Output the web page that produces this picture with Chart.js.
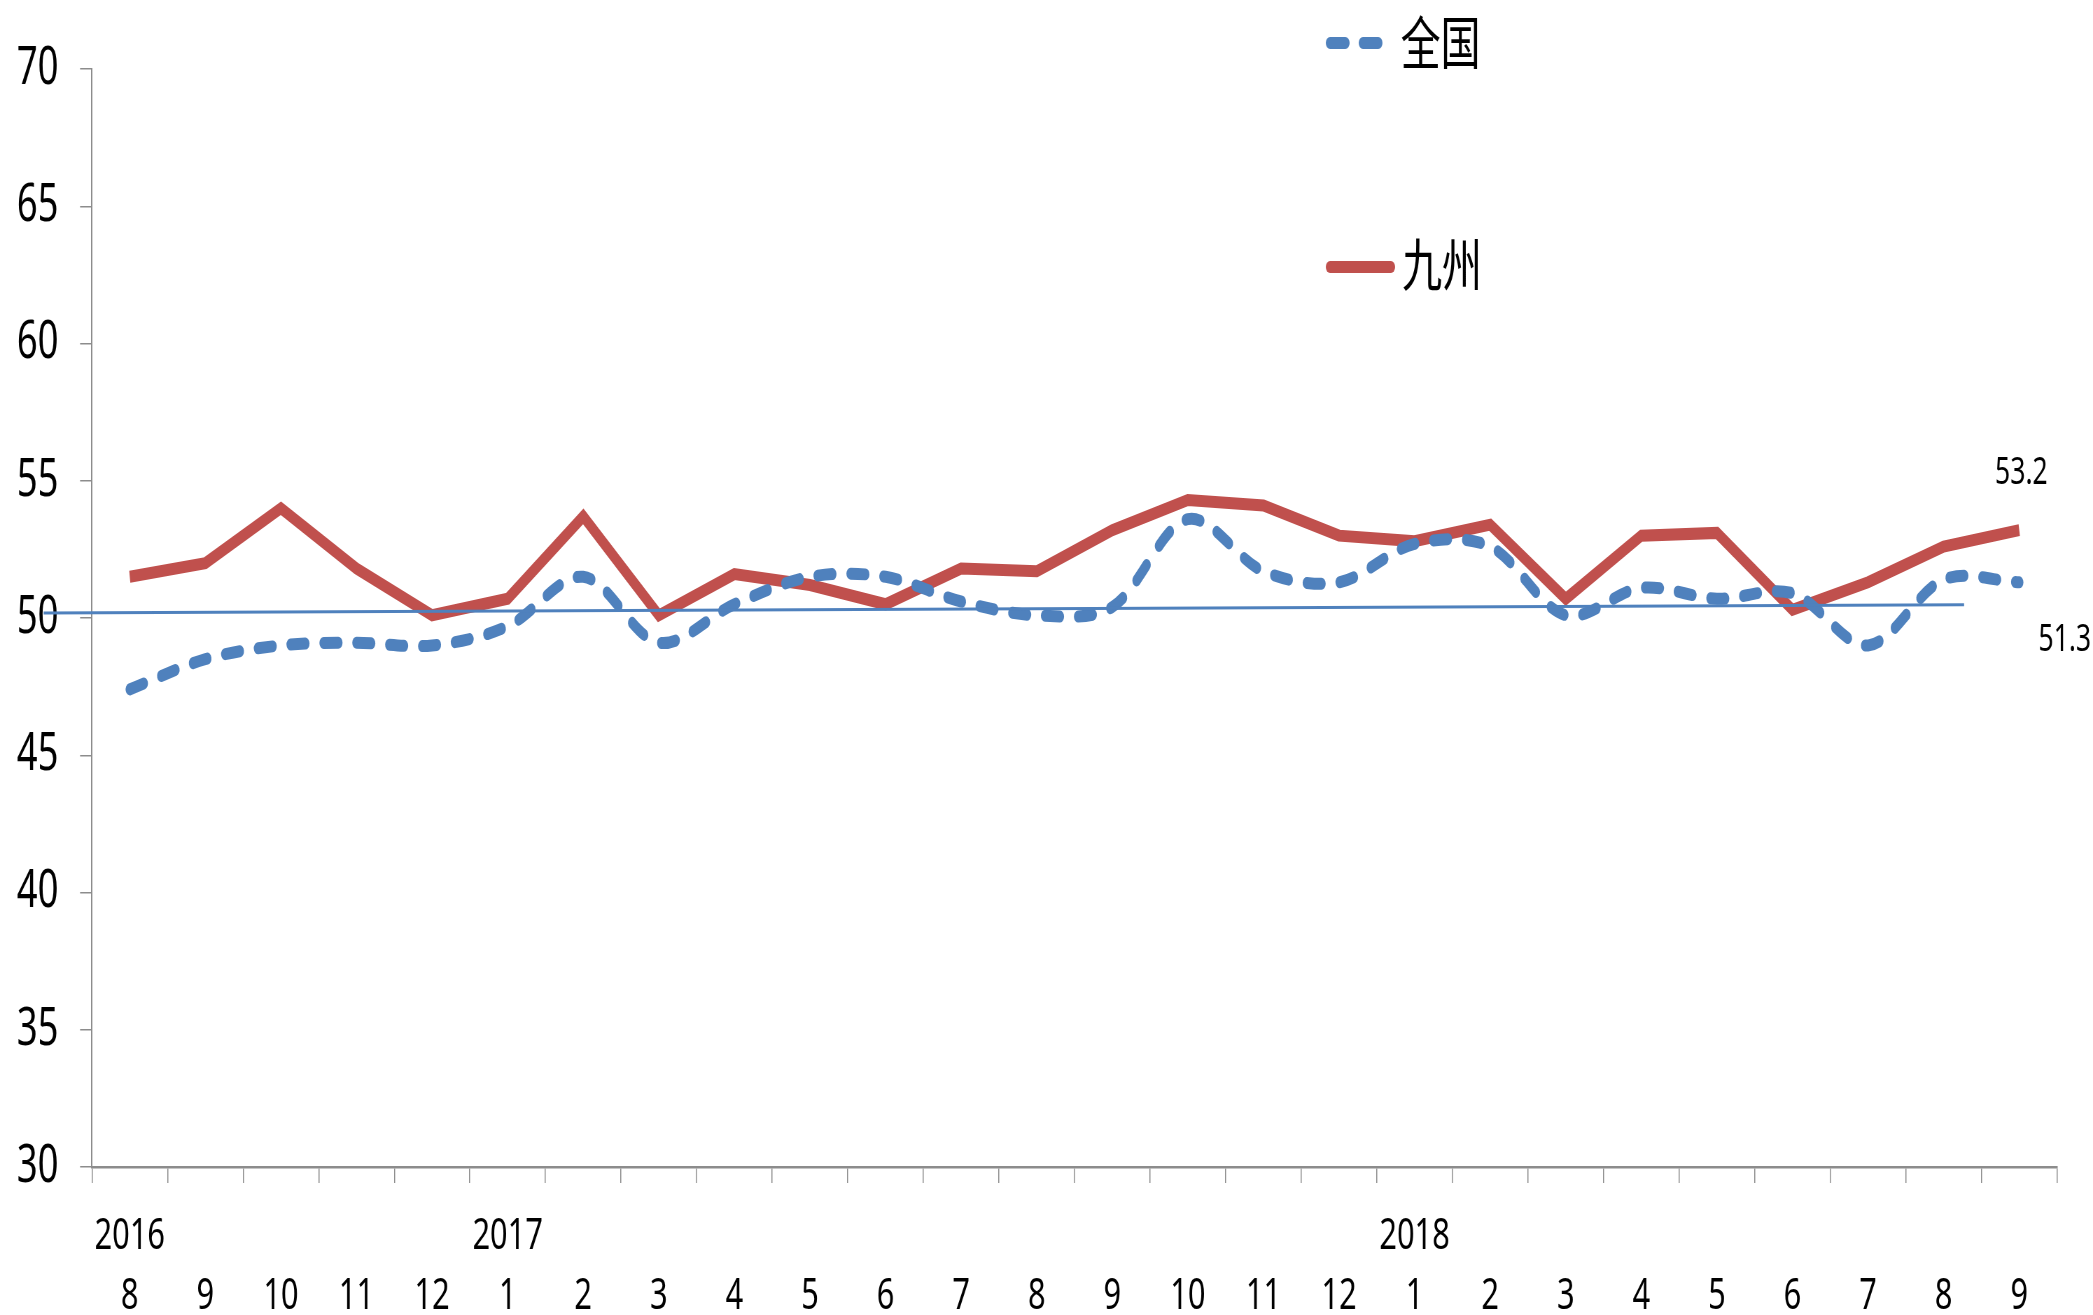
<!DOCTYPE html>
<html>
<head>
<meta charset="utf-8">
<script src="https://cdn.jsdelivr.net/npm/chart.js@4.4.0/dist/chart.umd.min.js"></script>
<style>
  html, body { margin: 0; padding: 0; background: #fff; overflow: hidden; }
  /* the original picture is squeezed sideways, so draw wide and squeeze it */
  #wrap { width: 2990px; height: 1315px; transform: scaleX(0.7); transform-origin: 0 0; }
</style>
</head>
<body>
<div id="wrap"><canvas id="chart"></canvas></div>
<script>
var months = ['8','9','10','11','12','1','2','3','4','5','6','7','8','9','10','11','12','1','2','3','4','5','6','7','8','9'];
var years  = ['2016','','','','','2017','','','','','','','','','','','','2018','','','','','','','',''];

var quanguo = [47.4,48.5,49.0,49.1,49.0,49.7,51.5,49.1,50.5,51.5,51.5,50.6,50.1,50.4,53.6,51.7,51.3,52.7,52.6,50.1,51.1,50.7,50.9,49.0,51.4,51.3];
var jiuzhou = [51.5,52.0,54.0,51.8,50.1,50.7,53.7,50.1,51.6,51.2,50.5,51.8,51.7,53.2,54.3,54.1,53.0,52.8,53.4,50.7,53.0,53.1,50.3,51.3,52.6,53.2];

// thin reference line drawn across the chart
var trendX = [-1.14, 24.27];
var trendY = [50.18, 50.48];

var yTicks = [30, 35, 40, 45, 50, 55, 60, 65, 70];

var blue = '#4F81BD';
var red = '#C0504D';
var axisGrey = '#8c8c8c';

var trendData = trendX.map(function (x, i) { return {x: x, y: trendY[i]}; });

var extrasPlugin = {
  id: 'extras',
  afterDraw: function (chart) {
    var ctx = chart.ctx;
    ctx.save();

    // legend, two rows far apart
    ctx.lineCap = 'round';
    ctx.lineWidth = 12;
    ctx.strokeStyle = blue;
    ctx.setLineDash([22, 25]);
    ctx.beginPath();
    ctx.moveTo(1900, 43);
    ctx.lineTo(1970, 43);
    ctx.stroke();

    ctx.setLineDash([]);
    ctx.strokeStyle = red;
    ctx.beginPath();
    ctx.moveTo(1900, 267);
    ctx.lineTo(1987, 267);
    ctx.stroke();

    ctx.fillStyle = '#000';
    ctx.textAlign = 'left';
    ctx.textBaseline = 'middle';
    ctx.font = '57px "Noto Sans CJK SC"';
    ctx.fillText(chart.data.datasets[0].label, 2001, 42);
    ctx.fillText(chart.data.datasets[1].label, 2003, 264);

    // end value labels
    ctx.font = '38px "Noto Sans"';
    ctx.textAlign = 'center';
    var redPts = chart.getDatasetMeta(1).data;
    var bluePts = chart.getDatasetMeta(0).data;
    var r = redPts[redPts.length - 1];
    var b = bluePts[bluePts.length - 1];
    ctx.fillText(jiuzhou[jiuzhou.length - 1].toFixed(1), r.x + 3, r.y - 57);
    ctx.fillText(quanguo[quanguo.length - 1].toFixed(1), b.x + 65, b.y + 58);

    ctx.restore();
  }
};

var ctx = document.getElementById('chart').getContext('2d');
var chart = new Chart(ctx, {
  type: 'line',
  data: {
    labels: months,
    datasets: [
      {
        label: '全国',
        data: quanguo,
        borderColor: blue,
        borderWidth: 12,
        borderDash: [21, 26],
        borderCapStyle: 'round',
        tension: 0.33,
        pointRadius: 0,
        fill: false,
        order: 1
      },
      {
        label: '九州',
        data: jiuzhou,
        borderColor: red,
        borderWidth: 12,
        borderJoinStyle: 'miter',
        tension: 0,
        pointRadius: 0,
        fill: false,
        order: 2
      },
      {
        label: 'trend',
        data: trendData,
        xAxisID: 'xt',
        borderColor: blue,
        borderWidth: 3,
        pointRadius: 0,
        tension: 0,
        clip: false,
        fill: false,
        order: 0
      }
    ]
  },
  options: {
    responsive: true,
    maintainAspectRatio: false,
    devicePixelRatio: 1,
    animation: false,
    layout: { padding: { top: 69, right: 51.4, left: 0, bottom: 0 } },
    plugins: {
      legend: { display: false },
      tooltip: { enabled: false }
    },
    scales: {
      x: {
        type: 'category',
        offset: true,
        grid: {
          offset: true,
          drawOnChartArea: false,
          drawTicks: true,
          tickLength: 16,
          tickColor: axisGrey,
          lineWidth: 1.5
        },
        border: { color: axisGrey, width: 2.5 },
        ticks: {
          autoSkip: false,
          maxRotation: 0,
          color: '#000',
          padding: 24,
          font: { family: '"Noto Sans"', size: 44, lineHeight: 1.36 },
          callback: function (v, i) { return [years[i], months[i]]; }
        },
        afterFit: function (scale) { scale.height = 148; }
      },
      xt: {
        type: 'linear',
        display: false,
        min: -0.5,
        max: 25.5
      },
      y: {
        min: yTicks[0],
        max: yTicks[yTicks.length - 1],
        afterBuildTicks: function (scale) {
          scale.ticks = yTicks.map(function (v) { return {value: v}; });
        },
        grid: {
          drawOnChartArea: false,
          drawTicks: true,
          tickLength: 17,
          tickColor: axisGrey,
          lineWidth: 1.5
        },
        border: { color: axisGrey, width: 2 },
        ticks: {
          color: '#000',
          padding: 31,
          font: { family: '"Noto Sans"', size: 52 }
        },
        afterFit: function (scale) { scale.width = 131.4; }
      }
    }
  },
  plugins: [extrasPlugin]
});
</script>
</body>
</html>
